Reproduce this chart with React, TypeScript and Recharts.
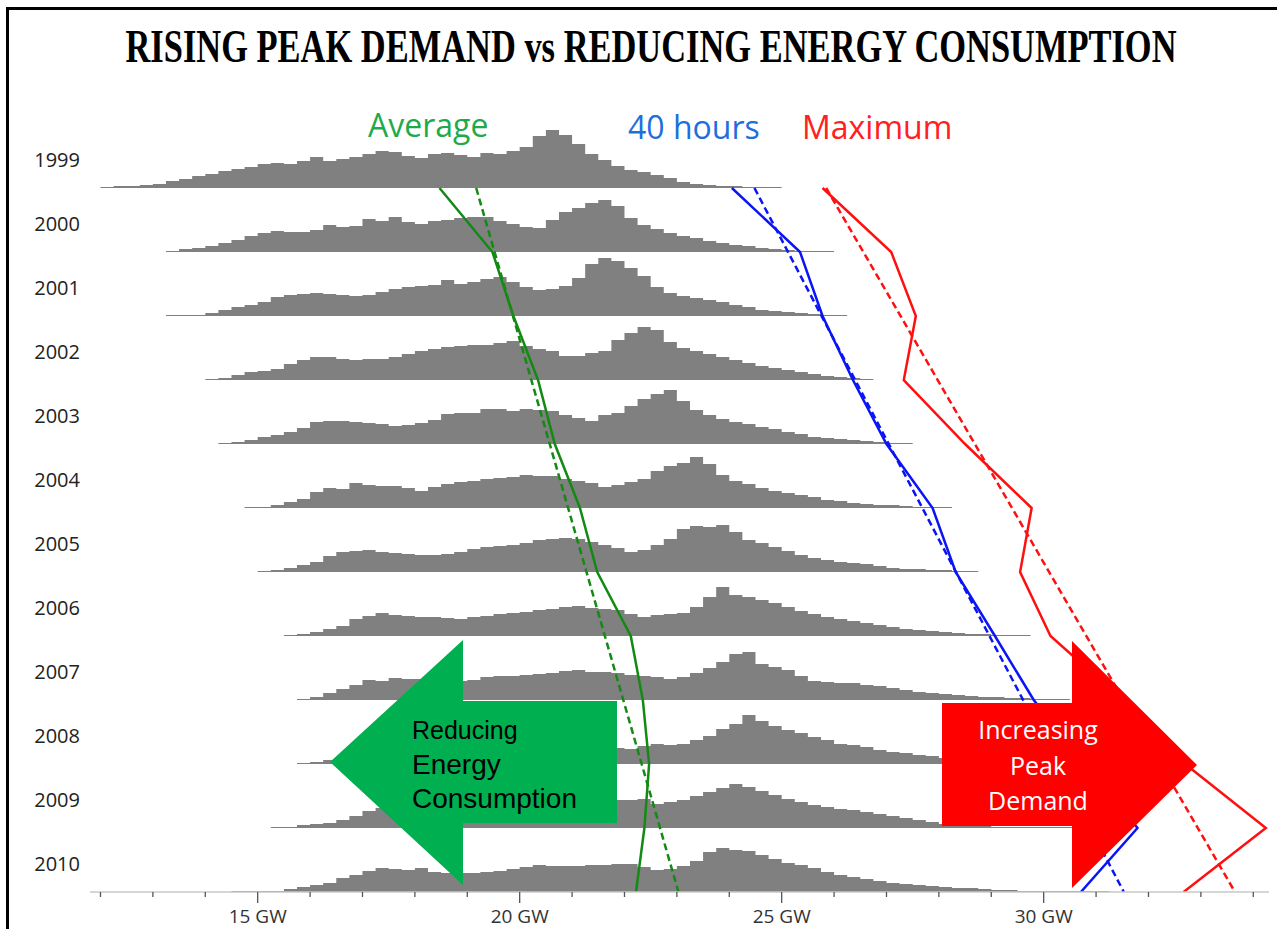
// Ridgeline of yearly load-duration histograms, 1999-2010, with the
// average / 40-hour / maximum demand tracks drawn across the rows.
//
// Each histogram row sits on its own baseline: the y axis is in histogram
// units and every year is lifted by ROW units above the next one.

import { Area, ComposedChart, Line, XAxis, YAxis } from 'recharts'

const YEARS = [1999, 2000, 2001, 2002, 2003, 2004, 2005, 2006, 2007, 2008, 2009, 2010]

// first bin (GW) of each year's histogram, bins are 0.25 GW wide
const HIST_START = [12.0, 13.25, 13.25, 14.0, 14.25, 14.75, 15.0, 15.5, 15.75, 15.75, 15.25, 14.5]

const H1999 = [1, 2, 2, 3, 4, 7, 9, 12, 14, 17, 19, 21, 24, 25, 24, 27, 31, 27, 29, 31, 34, 37, 36, 32, 30, 34, 35, 33, 31, 35, 34, 37, 41, 52, 58, 53, 44, 34, 28, 22, 18, 16, 13, 10, 6, 4, 3, 2, 2, 1, 1, 1]
const H2000 = [1, 3, 4, 6, 9, 12, 16, 19, 21, 20, 20, 22, 27, 25, 26, 33, 31, 35, 30, 28, 31, 32, 34, 35, 35, 31, 28, 25, 24, 32, 40, 44, 49, 52, 46, 34, 27, 23, 19, 16, 14, 11, 9, 7, 6, 4, 3, 2, 1, 1, 1]
const H2001 = [1, 1, 1, 3, 6, 9, 11, 14, 19, 21, 22, 23, 22, 21, 20, 21, 24, 27, 29, 30, 31, 36, 32, 34, 37, 39, 34, 29, 26, 27, 30, 38, 52, 58, 55, 48, 40, 29, 23, 20, 18, 16, 14, 11, 9, 6, 5, 4, 3, 2, 1, 1]
const H2002 = [1, 2, 5, 8, 9, 11, 16, 20, 23, 23, 21, 20, 21, 21, 23, 26, 29, 31, 33, 34, 35, 35, 37, 39, 34, 31, 29, 24, 24, 27, 29, 40, 47, 53, 50, 38, 32, 29, 26, 23, 20, 17, 14, 12, 10, 8, 6, 4, 3, 2, 1]
const H2003 = [1, 2, 4, 7, 9, 12, 16, 22, 23, 23, 22, 21, 20, 18, 19, 21, 24, 30, 31, 31, 35, 35, 33, 35, 34, 33, 29, 26, 23, 29, 31, 38, 45, 50, 54, 43, 34, 29, 25, 22, 20, 17, 15, 12, 10, 7, 6, 5, 4, 3, 2, 1, 1]
const H2004 = [1, 1, 3, 6, 9, 16, 20, 19, 25, 23, 22, 22, 20, 17, 21, 24, 26, 27, 29, 30, 31, 33, 32, 32, 29, 27, 25, 21, 23, 26, 29, 37, 42, 45, 51, 44, 33, 27, 24, 20, 17, 15, 13, 11, 8, 7, 5, 4, 3, 3, 2, 1, 1, 1]
const H2005 = [1, 2, 4, 7, 10, 16, 20, 21, 22, 20, 19, 18, 17, 17, 18, 20, 23, 25, 26, 27, 29, 32, 33, 34, 33, 30, 27, 24, 20, 22, 27, 33, 43, 46, 45, 47, 40, 32, 29, 25, 21, 17, 14, 12, 10, 9, 8, 6, 4, 3, 3, 2, 2, 1, 1]
const H2006 = [1, 2, 4, 7, 10, 17, 20, 23, 21, 20, 19, 19, 18, 17, 19, 20, 22, 23, 24, 26, 27, 29, 30, 28, 27, 26, 22, 19, 21, 22, 23, 29, 39, 49, 41, 39, 36, 33, 29, 25, 22, 19, 17, 15, 13, 11, 9, 7, 6, 5, 4, 3, 2, 2, 1, 1, 1]
const H2007 = [1, 3, 7, 11, 15, 20, 19, 22, 21, 21, 20, 20, 19, 20, 23, 24, 24, 25, 26, 27, 29, 30, 28, 28, 27, 25, 24, 23, 21, 23, 27, 32, 38, 46, 48, 36, 33, 30, 24, 19, 18, 17, 17, 15, 14, 12, 10, 8, 7, 6, 5, 4, 3, 3, 2, 2, 1, 1, 1]
const H2008 = [1, 2, 4, 6, 10, 14, 17, 19, 20, 20, 19, 19, 19, 20, 21, 22, 23, 23, 24, 24, 25, 25, 24, 22, 16, 15, 18, 20, 19, 20, 24, 28, 35, 40, 49, 43, 38, 34, 31, 27, 24, 20, 19, 17, 14, 12, 11, 9, 8, 6, 5, 4, 3, 2, 2, 1, 1, 1]
const H2009 = [1, 1, 3, 4, 5, 8, 12, 17, 20, 22, 23, 24, 25, 25, 26, 26, 27, 27, 28, 28, 28, 28, 28, 28, 28, 28, 28, 28, 29, 24, 26, 28, 32, 36, 40, 44, 41, 37, 33, 29, 26, 23, 21, 19, 18, 16, 14, 12, 10, 8, 6, 4, 3, 2, 2, 1, 1, 1, 1, 1, 1, 1, 1, 1]
const H2010 = [1, 1, 1, 1, 3, 5, 7, 9, 14, 17, 21, 24, 23, 22, 24, 20, 19, 19, 19, 20, 21, 23, 25, 27, 26, 26, 26, 27, 27, 28, 28, 25, 22, 23, 26, 31, 40, 44, 42, 41, 37, 33, 29, 27, 24, 20, 17, 15, 13, 11, 9, 8, 7, 6, 5, 4, 4, 3, 2, 2, 1, 1, 1, 1, 1, 1, 1]

const HISTS = [H1999, H2000, H2001, H2002, H2003, H2004, H2005, H2006, H2007, H2008, H2009, H2010]

// demand tracks, GW per year
const AVERAGE = [18.47, 19.48, 19.88, 20.35, 20.67, 21.15, 21.48, 22.12, 22.35, 22.47, 22.38, 22.22]
const FORTY_HOURS = [24.05, 25.35, 25.78, 26.36, 27.0, 27.88, 28.32, 29.07, 29.81, 30.8, 31.79, 30.71]
const MAXIMUM = [25.78, 27.09, 27.56, 27.33, 28.5, 29.77, 29.55, 30.13, 31.5, 32.7, 34.24, 32.67]

// straight trend lines, first and last year only
const TREND_YEARS = [1999, 2010]
const AVERAGE_TREND = [19.17, 23.03]
const FORTY_HOURS_TREND = [24.48, 31.53]
const MAXIMUM_TREND = [25.85, 33.65]

const GW_TICKS = [12, 13, 14, 15, 16, 17, 18, 19, 20, 21, 22, 23, 24, 25, 26, 27, 28, 29, 30, 31, 32, 33, 34]
const GW_LABELS = [15, 20, 25, 30]

const ROW = 64
const BIN = 0.25
const GREEN = '#138a13'
const BLUE = '#0a14f5'
const RED = '#ff1010'

const rowBase = (year: number) => (YEARS[YEARS.length - 1] - year) * ROW

// one table on the 0.25 GW grid; each year is a [base, base + count] range
const gridStart = Math.min(...HIST_START)
const gridEnd = Math.max(...HISTS.map((h, i) => HIST_START[i] + h.length * BIN))
const table: Record<string, any>[] = []
for (let k = 0; gridStart + k * BIN <= gridEnd + 1e-9; k++) {
  const gw = gridStart + k * BIN
  const row: Record<string, any> = { gw }
  YEARS.forEach((yr, i) => {
    const idx = Math.round((gw - HIST_START[i]) / BIN)
    const h = HISTS[i]
    const base = rowBase(yr)
    if (idx >= 0 && idx < h.length) row['y' + yr] = [base, base + h[idx]]
    else if (idx === h.length) row['y' + yr] = [base, base]
    else row['y' + yr] = null
  })
  table.push(row)
}

const track = (values: number[], years = YEARS) =>
  values.map((gw, i) => ({ gw, row: rowBase(years[i]) }))

const YEAR_TICKS = YEARS.map((yr) => rowBase(yr) + 28)

function GwTick(props: any) {
  const { x, y, payload } = props
  const major = GW_LABELS.includes(payload.value)
  return (
    <g>
      <line x1={x} x2={x} y1={y} y2={y + (major ? 11 : 5)} stroke="#555" strokeWidth={1.3} />
      {major && (
        <text x={x} y={y + 31} textAnchor="middle" fontFamily="'Open Sans', sans-serif" fontSize={19} fill="#333">
          {payload.value} GW
        </text>
      )}
    </g>
  )
}

function YearTick(props: any) {
  const { x, y, payload } = props
  const year = YEARS[YEAR_TICKS.indexOf(payload.value)]
  return (
    <text x={x} y={y} dy={7} textAnchor="end" fontFamily="'Open Sans', sans-serif" fontSize={20} fill="#222">
      {year}
    </text>
  )
}

export default function App() {
  const sans = "'Open Sans', sans-serif"
  const arial = "'Liberation Sans', Arial, sans-serif"
  return (
    <div style={{ position: 'absolute', left: 0, top: 0, width: 1277, height: 929, background: '#fff' }}>
      <ComposedChart
        width={1277}
        height={929}
        data={table}
        margin={{ top: 92, right: 8, bottom: 0, left: 10 }}
      >
        <XAxis
          type="number"
          dataKey="gw"
          domain={[11.8, 34.3]}
          allowDataOverflow
          ticks={GW_TICKS}
          interval={0}
          height={37}
          tickSize={0}
          tickMargin={0}
          tickLine={false}
          axisLine={{ stroke: '#c8c8c8', strokeWidth: 1.5 }}
          tick={<GwTick />}
        />
        <YAxis
          type="number"
          domain={[0, 800]}
          allowDataOverflow
          ticks={YEAR_TICKS}
          interval={0}
          width={80}
          tickSize={0}
          tickMargin={10}
          axisLine={false}
          tickLine={false}
          tick={<YearTick />}
        />
        {YEARS.map((yr) => (
          <Area
            key={yr}
            dataKey={'y' + yr}
            type="stepAfter"
            fill="#808080"
            fillOpacity={1}
            stroke="none"
            dot={false}
            activeDot={false}
            isAnimationActive={false}
          />
        ))}
        <Line data={track(AVERAGE_TREND, TREND_YEARS)} dataKey="row" stroke={GREEN} strokeWidth={2.5} strokeDasharray="7 4" dot={false} isAnimationActive={false} />
        <Line data={track(FORTY_HOURS_TREND, TREND_YEARS)} dataKey="row" stroke={BLUE} strokeWidth={2.5} strokeDasharray="7 4" dot={false} isAnimationActive={false} />
        <Line data={track(MAXIMUM_TREND, TREND_YEARS)} dataKey="row" stroke={RED} strokeWidth={2.5} strokeDasharray="7 4" dot={false} isAnimationActive={false} />
        <Line data={track(AVERAGE)} dataKey="row" stroke={GREEN} strokeWidth={2.5} dot={false} isAnimationActive={false} />
        <Line data={track(FORTY_HOURS)} dataKey="row" stroke={BLUE} strokeWidth={2.5} dot={false} isAnimationActive={false} />
        <Line data={track(MAXIMUM)} dataKey="row" stroke={RED} strokeWidth={2.5} dot={false} isAnimationActive={false} />
      </ComposedChart>

      {/* title, legend labels, the two arrows and the frame */}
      <svg width={1277} height={929} style={{ position: 'absolute', left: 0, top: 0, pointerEvents: 'none' }}>
        {/* condensed title: natural width squeezed to the ~1053px of the reference */}
        <text
          transform="translate(651 62) scale(0.733 1)"
          textAnchor="middle"
          fontFamily="'Liberation Serif', serif"
          fontWeight="bold"
          fontSize={47}
          fill="#000"
        >
          RISING PEAK DEMAND vs REDUCING ENERGY CONSUMPTION
        </text>

        <text x={368} y={137} fontFamily={sans} fontSize={32} fill="#1faa4a">Average</text>
        <text x={628} y={139} fontFamily={sans} fontSize={32} fill="#1e6fdc">40 hours</text>
        <text x={802} y={139} fontFamily={sans} fontSize={32} fill="#ff2020">Maximum</text>

        <polygon points="617,701 463,701 463,640 330,762 463,885 463,823 617,823" fill="#00b050" />
        <text fontFamily={arial} fill="#000">
          <tspan x={412} y={739} fontSize={25}>Reducing</tspan>
          <tspan x={412} y={774} fontSize={28}>Energy</tspan>
          <tspan x={412} y={808} fontSize={28}>Consumption</tspan>
        </text>

        <polygon points="942,703 1072,703 1072,641 1197,765 1072,888 1072,826 942,826" fill="#ff0000" />
        <text fontFamily={sans} fontSize={25} fill="#fff" textAnchor="middle">
          <tspan x={1038} y={739}>Increasing</tspan>
          <tspan x={1038} y={775}>Peak</tspan>
          <tspan x={1038} y={810}>Demand</tspan>
        </text>

        <line x1={7.5} y1={7} x2={7.5} y2={929} stroke="#000" strokeWidth={3} />
        <line x1={6} y1={8.5} x2={1277} y2={8.5} stroke="#000" strokeWidth={3} />
      </svg>
    </div>
  )
}
